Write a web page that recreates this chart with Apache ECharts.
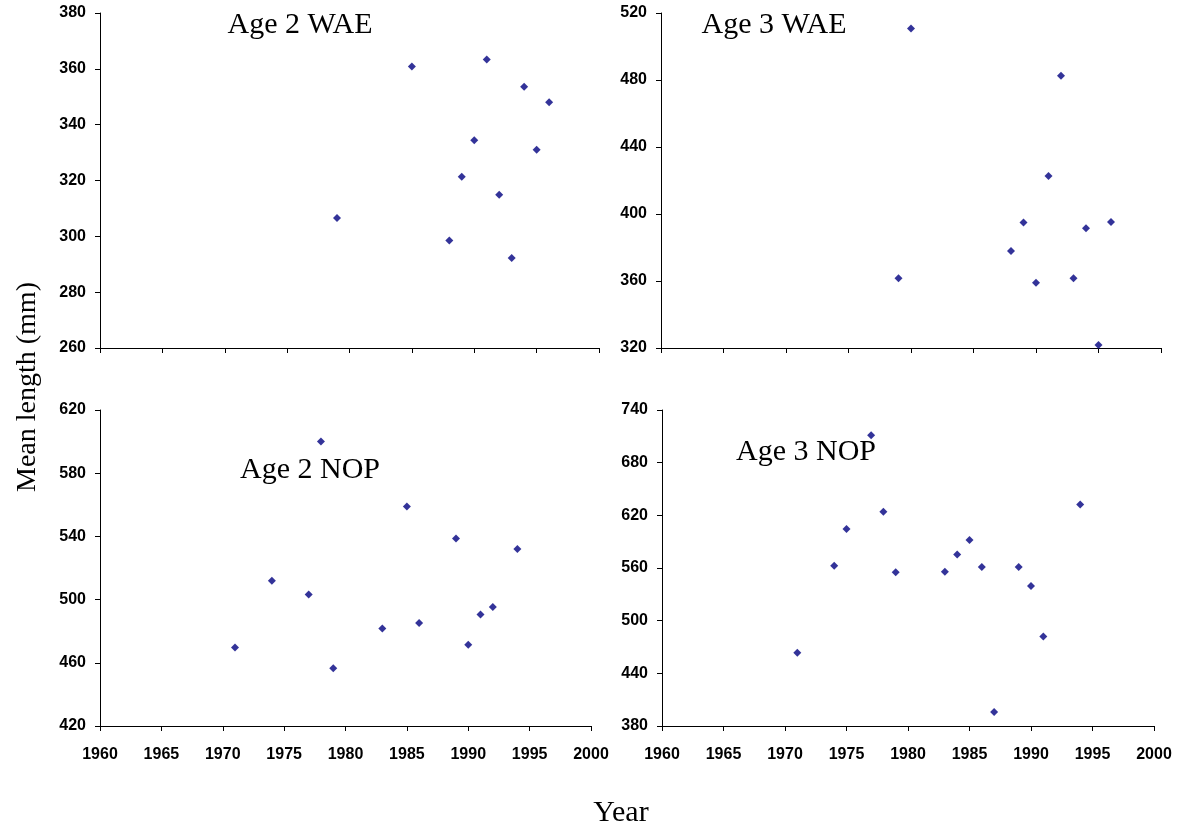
<!DOCTYPE html>
<html>
<head>
<meta charset="utf-8">
<script src="https://cdn.jsdelivr.net/npm/echarts@6/dist/echarts.min.js"></script>
<style>html,body{margin:0;padding:0;background:#fff;}#c{width:1184px;height:831px;}</style>
</head>
<body>
<div id="c"></div>
<script>
// ---- data ----
const years2WAE = [1979, 1985, 1988, 1989, 1990, 1991, 1992, 1993, 1994, 1995, 1996];
const len2WAE   = [306.6, 360.8, 298.5, 321.3, 334.4, 363.3, 314.9, 292.2, 353.6, 331.0, 348.0];
const years3WAE = [1979, 1980, 1988, 1989, 1990, 1991, 1992, 1993, 1994, 1995, 1996];
const len3WAE   = [361.6, 510.7, 377.9, 394.9, 359.0, 422.7, 482.6, 361.6, 391.5, 321.8, 395.2];
const years2NOP = [1971, 1974, 1977, 1978, 1979, 1983, 1985, 1986, 1989, 1990, 1991, 1992, 1994];
const len2NOP   = [469.7, 511.9, 503.3, 600.1, 456.5, 481.7, 558.9, 485.2, 538.6, 471.4, 490.5, 495.3, 532.0];
const years3NOP = [1971, 1974, 1975, 1977, 1978, 1979, 1983, 1984, 1985, 1986, 1987, 1989, 1990, 1991, 1994];
const len3NOP   = [463.5, 562.5, 604.4, 711.3, 624.1, 555.3, 555.7, 575.3, 592.0, 561.0, 396.0, 561.0, 539.4, 482.0, 632.3];

const panelTitles = ['Age 2 WAE', 'Age 3 WAE', 'Age 2 NOP', 'Age 3 NOP'];
const xTicks = { min: 1960, max: 2000, interval: 5 };
const yRanges = [
  { min: 260, max: 380, interval: 20 },
  { min: 320, max: 520, interval: 40 },
  { min: 420, max: 620, interval: 40 },
  { min: 380, max: 740, interval: 60 }
];
const yTitle = 'Mean length (mm)';
const xTitle = 'Year';

// ---- chart ----
const chart = echarts.init(document.getElementById('c'), null, { renderer: 'canvas' });
const grids = [
  { left: 100, top: 13, width: 499, height: 335 },
  { left: 661, top: 13, width: 500, height: 335 },
  { left: 100, top: 410, width: 491, height: 316 },
  { left: 662, top: 410, width: 492, height: 316 }
];
const labelFont = { fontFamily: 'Liberation Sans, Arial, sans-serif', fontWeight: 'bold', fontSize: 16, color: '#000' };
const axisLine = { show: true, onZero: false, lineStyle: { color: '#000', width: 1 } };

const xAxes = grids.map((g, i) => ({
  type: 'value', gridIndex: i, min: xTicks.min, max: xTicks.max, interval: xTicks.interval,
  axisLine: axisLine,
  axisTick: { show: true, inside: false, length: 5, lineStyle: { color: '#000' } },
  axisLabel: Object.assign({ show: i >= 2, margin: 21, formatter: v => String(v) }, labelFont),
  splitLine: { show: false }
}));
const yAxes = grids.map((g, i) => ({
  type: 'value', gridIndex: i, min: yRanges[i].min, max: yRanges[i].max, interval: yRanges[i].interval,
  axisLine: axisLine,
  axisTick: { show: true, inside: false, length: 5, lineStyle: { color: '#000' } },
  axisLabel: Object.assign({ show: true, margin: 14 }, labelFont),
  splitLine: { show: false }
}));

const allYears = [years2WAE, years3WAE, years2NOP, years3NOP];
const allLens = [len2WAE, len3WAE, len2NOP, len3NOP];
const series = allYears.map((ys, i) => ({
  type: 'scatter', xAxisIndex: i, yAxisIndex: i,
  symbol: 'diamond', symbolSize: 8,
  itemStyle: { color: '#000080' },
  data: ys.map((y, k) => [y, allLens[i][k]]),
  silent: true, animation: false
}));

const serif = 'Liberation Serif, Times New Roman, serif';
const titlePos = [[300, 25], [774, 25], [310, 470], [806, 452]];
const graphic = panelTitles.map((t, i) => ({
  type: 'text', x: titlePos[i][0], y: titlePos[i][1],
  style: { text: t, align: 'center', verticalAlign: 'middle', fontFamily: serif, fontSize: 30, fill: '#000' }
}));
graphic.push({
  type: 'text', x: 28, y: 387, rotation: Math.PI / 2,
  style: { text: yTitle, align: 'center', verticalAlign: 'middle', fontFamily: serif, fontSize: 28, fill: '#000' }
});
graphic.push({
  type: 'text', x: 621, y: 813,
  style: { text: xTitle, align: 'center', verticalAlign: 'middle', fontFamily: serif, fontSize: 30, fill: '#000' }
});

chart.setOption({
  animation: false,
  backgroundColor: '#fff',
  grid: grids,
  xAxis: xAxes,
  yAxis: yAxes,
  series: series,
  graphic: graphic
});
</script>
</body>
</html>
